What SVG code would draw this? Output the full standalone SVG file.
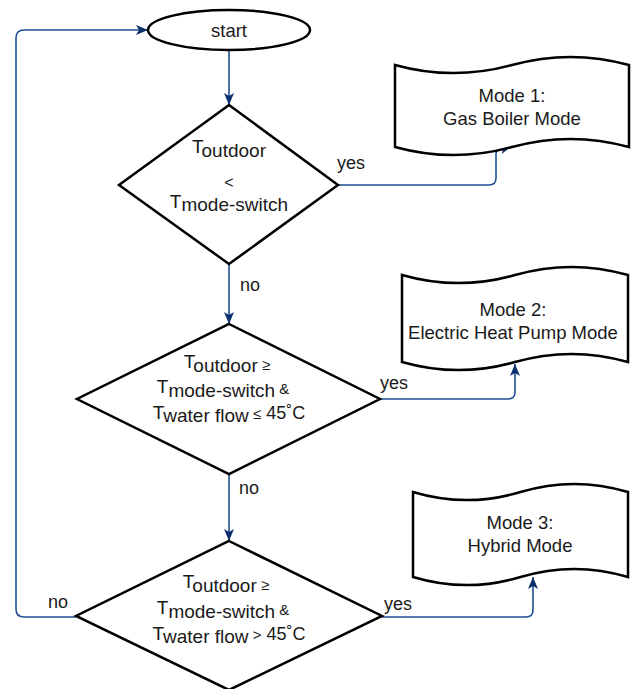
<svg xmlns="http://www.w3.org/2000/svg" width="633" height="689" viewBox="0 0 633 689">
<style>
.shape{fill:#ffffff;stroke:#000000;stroke-width:2.5;stroke-linejoin:miter}
.edge{fill:none;stroke:#1f4f94;stroke-width:1.6;marker-end:url(#arr)}
text{font-family:"Liberation Sans",Arial,sans-serif;fill:#1a1a1a}
.lbl{font-size:18px}
.node{font-size:18.5px;text-anchor:middle}
.dt{font-size:19px;text-anchor:middle}
.sm{font-size:15px}
</style>
<defs>
<marker id="arr" viewBox="0 0 12 10" refX="12" refY="5" markerWidth="12" markerHeight="10" markerUnits="userSpaceOnUse" orient="auto">
<path d="M0,0 L12,5 L0,10 L3,5 Z" fill="#0d2f6e"/>
</marker>
</defs>
<rect x="0" y="0" width="633" height="689" fill="#ffffff"/>

<g id="connectors">
<path class="edge" d="M229,50 V105"/>
<path class="edge" d="M338,185 H489 Q496,185 496,178 V154 Q496,149 501,149 L512,146"/>
<path class="edge" d="M229,264 V324"/>
<path class="edge" d="M380,399 H508 Q515,399 515,392 V364"/>
<path class="edge" d="M229,474 V541"/>
<path class="edge" d="M382,617 H526 Q533,617 533,610 V577"/>
<path class="edge" d="M76,617 H24 Q16,617 16,609 V38 Q16,30 24,30 H148"/>
<text class="lbl" x="337" y="169">yes</text>
<text class="lbl" x="240" y="291">no</text>
<text class="lbl" x="380" y="389">yes</text>
<text class="lbl" x="239" y="494">no</text>
<text class="lbl" x="384" y="610">yes</text>
<text class="lbl" x="48" y="608">no</text>
</g>

<g id="start">
<ellipse class="shape" cx="229" cy="30" rx="81" ry="20"/>
<text class="node" x="229" y="36.5">start</text>
</g>

<g id="decision1">
<path class="shape" d="M229,105 L338,185 L229,264 L119,185 Z"/>
<text class="dt" x="229" y="153">T<tspan dy="4">outdoor</tspan></text>
<text class="dt" x="229" y="188" style="font-size:16px">&lt;</text>
<text class="dt" x="229" y="208">T<tspan dy="3">mode-switch</tspan></text>
</g>

<g id="decision2">
<path class="shape" d="M229,324 L380,399 L229,474 L77,399 Z"/>
<text class="dt" x="227" y="368">T<tspan dy="4">outdoor</tspan><tspan class="sm" dy="-2"> ≥</tspan></text>
<text class="dt" x="223" y="393">T<tspan dy="4">mode-switch</tspan><tspan class="sm" dy="-3"> &amp;</tspan></text>
<text class="dt" x="229" y="419">T<tspan dy="3">water flow</tspan><tspan class="sm" dy="-3"> ≤</tspan><tspan style="font-size:18px"> 45˚C</tspan></text>
</g>

<g id="decision3">
<path class="shape" d="M229,541 L382,616 L229,690 L76,616 Z"/>
<text class="dt" x="226" y="588">T<tspan dy="4">outdoor</tspan><tspan class="sm" dy="-2"> ≥</tspan></text>
<text class="dt" x="223" y="614">T<tspan dy="4">mode-switch</tspan><tspan class="sm" dy="-3"> &amp;</tspan></text>
<text class="dt" x="229" y="640">T<tspan dy="3">water flow</tspan><tspan class="sm" dy="-3"> &gt;</tspan><tspan style="font-size:18px"> 45˚C</tspan></text>
</g>

<g id="mode1">
<path class="shape" d="M395,65 Q453.5,81.2 512,65 Q570.5,48.8 629,65 L629,147 Q570.5,130.8 512,147 Q453.5,163.2 395,147 Z"/>
<text class="node" x="512" y="102">Mode 1:</text>
<text class="node" x="512" y="125">Gas Boiler Mode</text>
</g>

<g id="mode2">
<path class="shape" d="M402,275 Q458.5,291.2 515,275 Q571.5,258.8 628,275 L628,362 Q571.5,345.8 515,362 Q458.5,378.2 402,362 Z"/>
<text class="node" x="513" y="316">Mode 2:</text>
<text class="node" x="513" y="339">Electric Heat Pump Mode</text>
</g>

<g id="mode3">
<path class="shape" d="M413,492 Q466.75,508.2 520.5,492 Q574.25,475.8 628,492 L628,577 Q574.25,560.8 520.5,577 Q466.75,593.2 413,577 Z"/>
<text class="node" x="520" y="529">Mode 3:</text>
<text class="node" x="520" y="552">Hybrid Mode</text>
</g>
</svg>
